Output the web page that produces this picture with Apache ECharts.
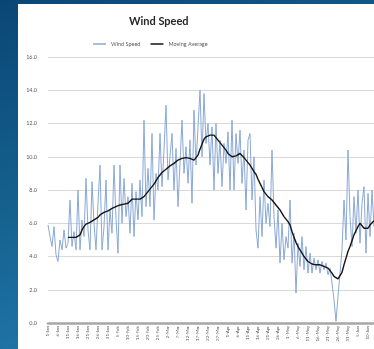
<!DOCTYPE html>
<html>
<head>
<meta charset="utf-8">
<script src="https://cdn.jsdelivr.net/npm/echarts@6/dist/echarts.min.js"></script>
<style>
  html, body { margin: 0; padding: 0; width: 374px; height: 349px; overflow: hidden; }
  body {
    background:
      linear-gradient(125deg, rgba(255,255,255,0) 62%, rgba(120,190,230,0.25) 66%, rgba(255,255,255,0) 72%),
      linear-gradient(160deg, #0a4675 0%, #15628f 45%, #1f74a6 75%, #2a86bb 100%);
  }
  #panel { position: absolute; left: 18px; top: 4px; width: 356px; height: 345px; background: #ffffff; }
  #chart { position: absolute; left: 0; top: 0; width: 374px; height: 349px; }
</style>
</head>
<body>
<div id="panel"></div>
<div id="chart"></div>
<script>
// Daily wind speed readings
const windSpeed = [
  5.9, 5.2, 4.6, 5.8, 4.1, 3.7, 5.0, 4.4, 5.6, 4.5,
  4.8, 7.4, 4.6, 5.5, 4.4, 8.0, 4.4, 6.2, 5.2, 8.7,
  5.6, 4.4, 8.5, 6.0, 4.4, 7.2, 9.5, 4.4, 5.8, 8.6,
  4.4, 6.8, 5.4, 9.5, 6.3, 4.2, 9.5, 6.0, 8.7, 6.4,
  7.6, 5.4, 8.4, 5.2, 7.9, 6.2, 8.6, 6.4, 12.2, 7.0,
  9.3, 7.0, 11.4, 6.2, 9.0, 8.0, 11.4, 8.2, 10.4, 13.1,
  8.6, 10.0, 11.4, 8.0, 10.5, 7.0, 7.1, 12.2, 9.0, 10.6,
  8.4, 11.0, 7.2, 12.8, 9.5, 11.8, 14.0, 10.0, 13.8, 10.8,
  12.0, 9.5, 11.8, 8.0, 12.0, 9.0, 11.0, 8.2, 10.8, 9.6,
  11.5, 8.0, 12.2, 8.0, 11.4, 9.6, 11.6, 8.4, 10.4, 6.8,
  11.0, 11.4, 7.4, 10.0, 5.6, 4.5, 7.6, 5.2, 8.6, 6.0,
  7.2, 5.8, 10.4, 6.4, 4.5, 6.8, 3.6, 6.0, 3.8, 5.2,
  4.5, 7.4, 3.6, 5.4, 1.8, 4.8, 3.4, 5.2, 3.2, 4.6,
  3.0, 4.2, 3.0, 3.9, 3.2, 3.8, 3.0, 3.7, 3.2, 3.6,
  2.9, 3.3, 2.4, 1.4, 0.1, 1.6, 3.0, 4.4, 7.4, 5.0,
  10.4, 6.4, 4.6, 7.6, 5.4, 8.0, 4.8, 7.2, 8.2, 4.2,
  7.8, 5.2, 8.0, 5.8
];

// Moving average (undefined for the first ten days of the window)
const movingAverage = [
  null, null, null, null, null, null, null, null, null, null,
  5.15, 5.15, 5.15, 5.15, 5.15, 5.15, 5.3, 5.6, 5.8, 5.95,
  6.05, 6.05, 6.1, 6.2, 6.3, 6.35, 6.5, 6.6, 6.65, 6.65,
  6.75, 6.85, 6.9, 6.95, 7.0, 7.05, 7.1, 7.1, 7.15, 7.2,
  7.2, 7.25, 7.45, 7.5, 7.45, 7.4, 7.45, 7.5, 7.6, 7.75,
  7.9, 8.0, 8.2, 8.35, 8.55, 8.75, 8.9, 9.05, 9.15, 9.25,
  9.35, 9.45, 9.5, 9.6, 9.7, 9.8, 9.85, 9.9, 9.9, 9.95,
  9.95, 9.9, 9.85, 9.8, 9.85, 10.1, 10.45, 10.75, 11.05, 11.2,
  11.3, 11.3, 11.3, 11.3, 11.2, 11.0, 10.85, 10.7, 10.55, 10.4,
  10.2, 10.1, 10.0, 9.95, 10.05, 10.15, 10.2, 10.1, 9.95, 9.85,
  9.65, 9.5, 9.3, 9.1, 8.95, 8.65, 8.4, 8.15, 7.9, 7.75,
  7.6, 7.5, 7.4, 7.25, 7.1, 6.95, 6.8, 6.6, 6.4, 6.25,
  6.1, 5.9, 5.5, 5.15, 4.85, 4.6, 4.4, 4.2, 4.0, 3.85,
  3.7, 3.6, 3.55, 3.55, 3.5, 3.5, 3.5, 3.45, 3.4, 3.4,
  3.3, 3.2, 3.0, 2.8, 2.7, 2.65, 2.7, 3.05, 3.5, 3.9,
  4.3, 4.6, 4.95, 5.3, 5.55, 5.8, 6.0, 5.85, 5.7, 5.6,
  5.7, 5.9, 6.0, 6.15
];

// Date labels shown every fifth day
const tickLabels = [
  '1-Jan', '6-Jan', '11-Jan', '16-Jan', '21-Jan', '26-Jan', '31-Jan', '5-Feb',
  '10-Feb', '15-Feb', '20-Feb', '25-Feb', '2-Mar', '7-Mar', '12-Mar', '17-Mar',
  '22-Mar', '27-Mar', '1-Apr', '6-Apr', '11-Apr', '16-Apr', '21-Apr', '26-Apr',
  '1-May', '6-May', '11-May', '16-May', '21-May', '26-May', '31-May', '5-Jun', '10-Jun'
];

const yTicks = { min: 0, max: 16, step: 2 };

const categories = windSpeed.map((_, i) => (i % 5 === 0 ? tickLabels[i / 5] : ''));

const FONT = 'Lato, "Open Sans", sans-serif';
const RAW_COLOR = '#8aa8d6';
const AVG_COLOR = '#141414';
const chart = echarts.init(document.getElementById('chart'), null, { renderer: 'canvas' });

chart.setOption({
  animation: false,
  backgroundColor: 'transparent',
  textStyle: { fontFamily: FONT },
  title: {
    text: 'Wind Speed',
    left: 124,
    top: 11,
    textStyle: { fontFamily: FONT, fontSize: 11, fontWeight: 'bold', color: '#262626' }
  },
  legend: {
    left: 88,
    top: 36,
    itemWidth: 13,
    itemHeight: 1.5,
    itemGap: 10,
    textStyle: { fontFamily: FONT, fontSize: 5.5, color: '#595959' },
    data: [
      { name: 'Wind Speed', icon: 'rect', itemStyle: { color: RAW_COLOR } },
      { name: 'Moving Average', icon: 'rect', itemStyle: { color: AVG_COLOR } }
    ]
  },
  grid: { left: 48, right: 0, top: 57, bottom: 26, containLabel: false },
  xAxis: {
    type: 'category',
    data: categories,
    boundaryGap: false,
    axisLine: { show: true, lineStyle: { color: '#a6a6a6', width: 2.5 } },
    axisTick: { show: false },
    axisLabel: {
      interval: 0,
      rotate: 90,
      fontSize: 4.5,
      margin: 3,
      color: '#595959',
      fontFamily: FONT
    },
    splitLine: { show: false }
  },
  yAxis: {
    type: 'value',
    min: yTicks.min,
    max: yTicks.max,
    interval: yTicks.step,
    axisLine: { show: false },
    axisTick: { show: false },
    axisLabel: {
      fontSize: 5.5,
      margin: 11,
      color: '#595959',
      fontFamily: FONT,
      formatter: v => v.toFixed(1)
    },
    splitLine: { lineStyle: { color: '#d9d9d9', width: 1 } }
  },
  series: [
    {
      name: 'Wind Speed',
      type: 'line',
      data: windSpeed,
      symbol: 'none',
      lineStyle: { color: RAW_COLOR, width: 1 },
      itemStyle: { color: RAW_COLOR },
      z: 2
    },
    {
      name: 'Moving Average',
      type: 'line',
      data: movingAverage,
      symbol: 'none',
      connectNulls: false,
      lineStyle: { color: AVG_COLOR, width: 1.4 },
      itemStyle: { color: AVG_COLOR },
      z: 3
    }
  ]
});
</script>
</body>
</html>
